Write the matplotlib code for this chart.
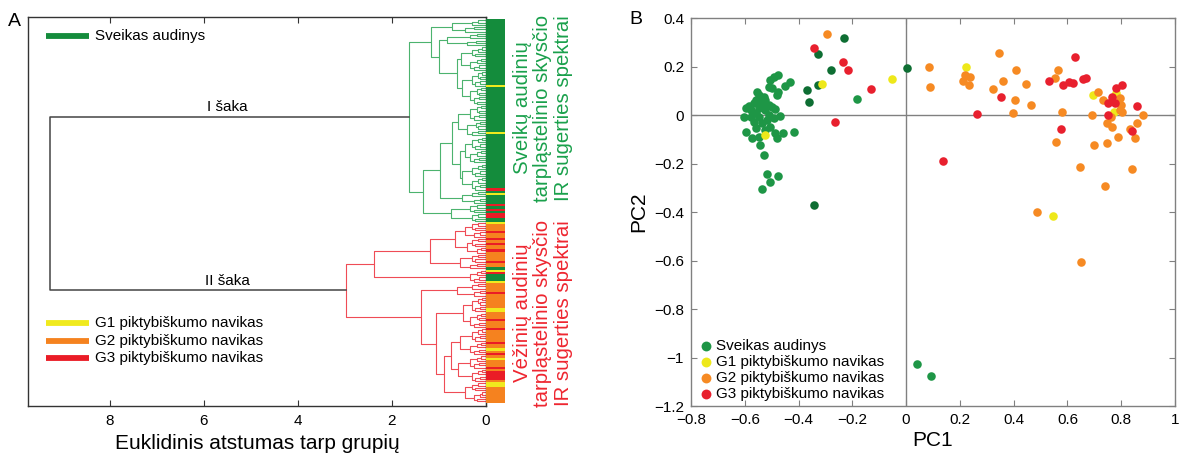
import matplotlib
matplotlib.use("Agg")
import matplotlib.pyplot as plt
from matplotlib.collections import LineCollection
from matplotlib.ticker import FixedLocator, FixedFormatter

plt.rcParams['font.family'] = ['Liberation Sans', 'DejaVu Sans']
plt.rcParams['axes.unicode_minus'] = True

# ------------------------------------------------------------------ data
# leaf colour bar of the dendrogram (top -> bottom), run-length encoded
leaf_runs = [("g", 29), ("y", 1), ("g", 20), ("y", 1), ("g", 24), ("r", 1), ("g", 1),
             ("y", 1), ("g", 4), ("r", 1), ("g", 1), ("r", 1), ("g", 1), ("r", 2), ("g", 2),
             ("y", 1), ("o", 3), ("r", 1), ("o", 2), ("r", 1), ("o", 1), ("r", 1), ("o", 2),
             ("r", 1), ("o", 4), ("r", 1), ("o", 2), ("g", 1), ("y", 1), ("r", 1), ("g", 3),
             ("y", 1), ("o", 4), ("r", 1), ("o", 6), ("y", 2), ("o", 3), ("r", 1), ("o", 3),
             ("r", 1), ("o", 5), ("r", 1), ("o", 2), ("y", 1), ("o", 1), ("r", 1), ("o", 1),
             ("y", 1), ("o", 3), ("r", 1), ("o", 1), ("r", 4), ("o", 1), ("y", 2), ("o", 7)]

# dendrogram: [merge height, upper child, lower child]; (height, n) = tight leaf group
tree_I = [1.64,
          [1.17,
           [0.72, (0.30, 3), (0.45, 3)],
           [1.00,
            [0.82, (0.35, 3), (0.40, 3)],
            [0.62, [0.53, (0.30, 5), (0.35, 6)], [0.50, (0.30, 7), (0.35, 8)]]]],
          [1.34,
           [0.98,
            [0.72, [0.60, (0.35, 7), (0.40, 7)],
             [0.55, [0.45, (0.30, 6), (0.35, 6)], [0.50, (0.30, 6), (0.30, 6)]]],
            [0.50, (0.30, 3), (0.25, 3)]],
           [0.75, (0.35, 4), (0.30, 4)]]]
tree_II = [2.98,
           [2.38,
            [1.19,
             [0.66, [0.45, (0.30, 4), (0.25, 3)], [0.40, (0.30, 4), (0.20, 3)]],
             [0.55, (0.30, 4), (0.35, 3)]],
            (0.34, 6)],
           [1.38,
            [0.62, (0.30, 3), (0.25, 3)],
            [1.06,
             [0.49, (0.30, 7), (0.35, 7)],
             [0.90,
              [0.75, [0.55, (0.30, 6), (0.35, 6)], [0.60, (0.35, 6), (0.30, 6)]],
              [0.45, (0.30, 4), (0.25, 5)]]]]]
root_height = 9.28
dist_ticks = [8, 6, 4, 2, 0]

# PCA scatter
healthy_x = [-0.475, -0.493, -0.505, -0.432, -0.450, -0.511, -0.499, -0.475, -0.481, -0.554,
             -0.548, -0.530, -0.560, -0.542, -0.523, -0.566, -0.585, -0.536, -0.511, -0.548,
             -0.578, -0.597, -0.523, -0.499, -0.487, -0.560, -0.603, -0.578, -0.548, -0.511,
             -0.468, -0.493, -0.517, -0.566, -0.536, -0.597, -0.560, -0.523, -0.505, -0.487,
             -0.456, -0.416, -0.572, -0.548, -0.481, -0.542, -0.530, -0.517, -0.505, -0.475,
             -0.536, -0.183, 0.040, 0.093]
healthy_y = [0.165, 0.155, 0.144, 0.137, 0.120, 0.117, 0.110, 0.096, 0.083, 0.096,
             0.083, 0.076, 0.062, 0.055, 0.062, 0.048, 0.037, 0.041, 0.041, 0.028,
             0.021, 0.028, 0.021, 0.032, 0.024, 0.007, -0.007, -0.007, -0.007, 0.000,
             -0.004, -0.014, -0.021, -0.027, -0.034, -0.069, -0.055, -0.062, -0.048, -0.076,
             -0.076, -0.069, -0.096, -0.089, -0.096, -0.124, -0.165, -0.245, -0.275, -0.252,
             -0.306, 0.067, -1.027, -1.076]
healthy_dark_x = [-0.232, -0.327, -0.278, -0.327, -0.368, -0.363, -0.343, 0.004]
healthy_dark_y = [0.319, 0.250, 0.186, 0.124, 0.103, 0.052, -0.372, 0.193]
g1_x = [-0.523, -0.313, -0.051, 0.221, 0.546, 0.696, 0.782, 0.772]
g1_y = [-0.082, 0.128, 0.147, 0.197, -0.416, 0.082, 0.092, 0.011]
g2_x = [-0.293, 0.085, 0.087, 0.218, 0.239, 0.212, 0.234, 0.347, 0.408, 0.359,
        0.322, 0.447, 0.406, 0.463, 0.396, 0.565, 0.553, 0.580, 0.558, 0.648,
        0.739, 0.488, 0.651, 0.714, 0.733, 0.794, 0.800, 0.795, 0.804, 0.690,
        0.761, 0.748, 0.766, 0.831, 0.859, 0.880, 0.788, 0.852, 0.700, 0.748, 0.839]
g2_y = [0.333, 0.199, 0.117, 0.165, 0.158, 0.141, 0.124, 0.254, 0.186, 0.140,
        0.107, 0.126, 0.062, 0.041, 0.007, 0.186, 0.151, 0.014, -0.110, -0.216,
        -0.293, -0.400, -0.605, 0.096, 0.062, 0.069, 0.041, 0.021, 0.014, 0.000,
        -0.010, -0.034, -0.048, -0.059, -0.034, 0.000, -0.089, -0.094, -0.124, -0.117, -0.224]
g3_x = [-0.343, -0.236, -0.217, -0.129, -0.266, 0.353, 0.265, 0.139, 0.533, 0.629,
        0.583, 0.604, 0.622, 0.659, 0.668, 0.576, 0.751, 0.764, 0.782, 0.803,
        0.776, 0.749, 0.841, 0.858]
g3_y = [0.275, 0.220, 0.186, 0.106, -0.027, 0.073, 0.003, -0.188, 0.140, 0.240,
        0.124, 0.136, 0.133, 0.150, 0.151, -0.056, 0.051, 0.076, 0.110, 0.124,
        0.048, 0.000, -0.065, 0.037]
pc_xticks = [-0.8, -0.6, -0.4, -0.2, 0, 0.2, 0.4, 0.6, 0.8, 1.0]
pc_xlabels = ["−0.8", "−0.6", "−0.4", "−0.2", "0", "0.2", "0.4", "0.6", "0.8", "1"]
pc_yticks = [-1.2, -1.0, -0.8, -0.6, -0.4, -0.2, 0, 0.2, 0.4]
pc_ylabels = ["−1.2", "−1", "−0.8", "−0.6", "−0.4", "−0.2", "0", "0.2", "0.4"]

# ------------------------------------------------------------------ styles
bar_colors = {"g": "#148c3c", "y": "#f0ea1e", "o": "#f5821f", "r": "#ea1c26"}
green_line = "#4cb36e"
red_line = "#ef4c56"
root_line = "#444444"
txt_green = "#19a04b"
txt_red = "#ee2630"
sc_green = "#1e9646"
sc_dgreen = "#0e6e33"
sc_yellow = "#eee81a"
sc_orange = "#f68a23"
sc_red = "#e8202e"

W, H = 1182, 455
fig = plt.figure(figsize=(W / 100, H / 100), dpi=100)


def fx(px):
    return px / W


def fy(py):
    return 1 - py / H


# ------------------------------------------------------------------ dendrogram
def build_group(h, n, first, segs):
    if n == 1:
        return 0.0, float(first), 1
    a = (n + 1) // 2
    h1, y1, _ = build_group(h * 0.55, a, first, segs)
    h2, y2, _ = build_group(h * 0.75, n - a, first + a, segs)
    segs.append([(h1, y1), (h, y1), (h, y2), (h2, y2)])
    return h, (y1 + y2) / 2, n


def build(node, first, segs):
    if isinstance(node, tuple):
        return build_group(node[0], node[1], first, segs)
    hh, left, right = node
    h1, y1, n1 = build(left, first, segs)
    h2, y2, n2 = build(right, first + n1, segs)
    segs.append([(h1, y1), (hh, y1), (hh, y2), (h2, y2)])
    return hh, (y1 + y2) / 2, n1 + n2


leaf_cats = []
for c, n in leaf_runs:
    leaf_cats += [c] * n
n_leaves = len(leaf_cats)

axL = fig.add_axes([fx(28), fy(406), fx(458), 389 / H])
green_segs, red_segs = [], []
hI, yI, nI = build(tree_I, 0, green_segs)
hII, yII, nII = build(tree_II, nI, red_segs)
axL.add_collection(LineCollection(green_segs, colors=green_line, linewidths=0.8))
axL.add_collection(LineCollection(red_segs, colors=red_line, linewidths=0.8))
axL.plot([hI, root_height, root_height, hII], [yI, yI, yII, yII], color=root_line, lw=1.1)
axL.set_xlim(9.74, 0)
axL.set_ylim(n_leaves - 1 + 2.0, -1.5)
axL.set_xticks(dist_ticks)
axL.set_xticklabels([str(t) for t in dist_ticks])
axL.set_yticks([])
axL.tick_params(axis='x', direction='in', top=True, length=4, labelsize=11, pad=6,
                color='#333333')
for s in axL.spines.values():
    s.set_color('#333333')
    s.set_linewidth(1.0)
axL.set_xlabel("Euklidinis atstumas tarp grupių", fontsize=15, labelpad=4)
axL.annotate("I šaka", (5.5, yI), xytext=(0, 2), textcoords='offset points',
             ha='center', va='bottom', fontsize=11)
axL.annotate("II šaka", (5.5, yII), xytext=(0, 2), textcoords='offset points',
             ha='center', va='bottom', fontsize=11)

# legend of panel A
leg_items = [("Sveikas audinys", "g", 0.951), ("G1 piktybiškumo navikas", "y", 0.213),
             ("G2 piktybiškumo navikas", "o", 0.167), ("G3 piktybiškumo navikas", "r", 0.123)]
for label, c, yy in leg_items:
    axL.plot([0.039, 0.133], [yy, yy], transform=axL.transAxes, color=bar_colors[c],
             lw=4.2, solid_capstyle='butt')
    axL.text(0.146, yy, label, transform=axL.transAxes, fontsize=11, va='center', ha='left')

# colour bar
axB = fig.add_axes([fx(486), fy(406), fx(19), 389 / H])
axB.barh(range(n_leaves), [1] * n_leaves, height=1.0,
         color=[bar_colors[c] for c in leaf_cats], linewidth=0)
axB.set_xlim(0, 1)
axB.set_ylim(n_leaves - 1 + 2.0, -1.5)
axB.axis('off')

fig.text(fx(543), fy(108), "Sveikų audinių\ntarpląstelinio skysčio\nIR sugerties spektrai",
         rotation=90, ha='center', va='center', multialignment='center',
         fontsize=14.7, color=txt_green, linespacing=1.12)
fig.text(fx(543), fy(313), "Vėžinių audinių\ntarpląstelinio skysčio\nIR sugerties spektrai",
         rotation=90, ha='center', va='center', multialignment='center',
         fontsize=14.7, color=txt_red, linespacing=1.12)

fig.text(fx(14), fy(22), "A", fontsize=14, ha='center', va='center')
fig.text(fx(636), fy(20), "B", fontsize=14, ha='center', va='center')

# ------------------------------------------------------------------ PCA scatter
axR = fig.add_axes([fx(691), fy(406), fx(484), 388 / H])
axR.axhline(0, color='#808080', lw=1.0, zorder=1)
axR.axvline(0, color='#808080', lw=1.0, zorder=1)
ms = 38
h0 = axR.scatter(healthy_x, healthy_y, s=ms, color=sc_green, linewidths=0, zorder=3,
                 label="Sveikas audinys")
axR.scatter(healthy_dark_x, healthy_dark_y, s=ms, color=sc_dgreen, linewidths=0, zorder=3)
h1 = axR.scatter(g1_x, g1_y, s=ms, color=sc_yellow, linewidths=0, zorder=3,
                 label="G1 piktybiškumo navikas")
h2 = axR.scatter(g2_x, g2_y, s=ms, color=sc_orange, linewidths=0, zorder=3,
                 label="G2 piktybiškumo navikas")
h3 = axR.scatter(g3_x, g3_y, s=ms, color=sc_red, linewidths=0, zorder=4,
                 label="G3 piktybiškumo navikas")
axR.set_xlim(-0.8, 1.0)
axR.set_ylim(-1.2, 0.4)
axR.xaxis.set_major_locator(FixedLocator(pc_xticks))
axR.xaxis.set_major_formatter(FixedFormatter(pc_xlabels))
axR.yaxis.set_major_locator(FixedLocator(pc_yticks))
axR.yaxis.set_major_formatter(FixedFormatter(pc_ylabels))
axR.tick_params(direction='in', top=True, right=True, length=4, labelsize=11,
                color='#808080', pad=5)
for s in axR.spines.values():
    s.set_color('#808080')
    s.set_linewidth(1.0)
axR.set_xlabel("PC1", fontsize=15, labelpad=3)
axR.set_ylabel("PC2", fontsize=15, labelpad=4)
axR.legend(handles=[h0, h1, h2, h3], loc='lower left', frameon=False, fontsize=11,
           handletextpad=0.1, labelspacing=0.12, handlelength=1.2, borderaxespad=0.15,
           borderpad=0.2, markerscale=1.15)

fig.savefig("out.png", dpi=100)
